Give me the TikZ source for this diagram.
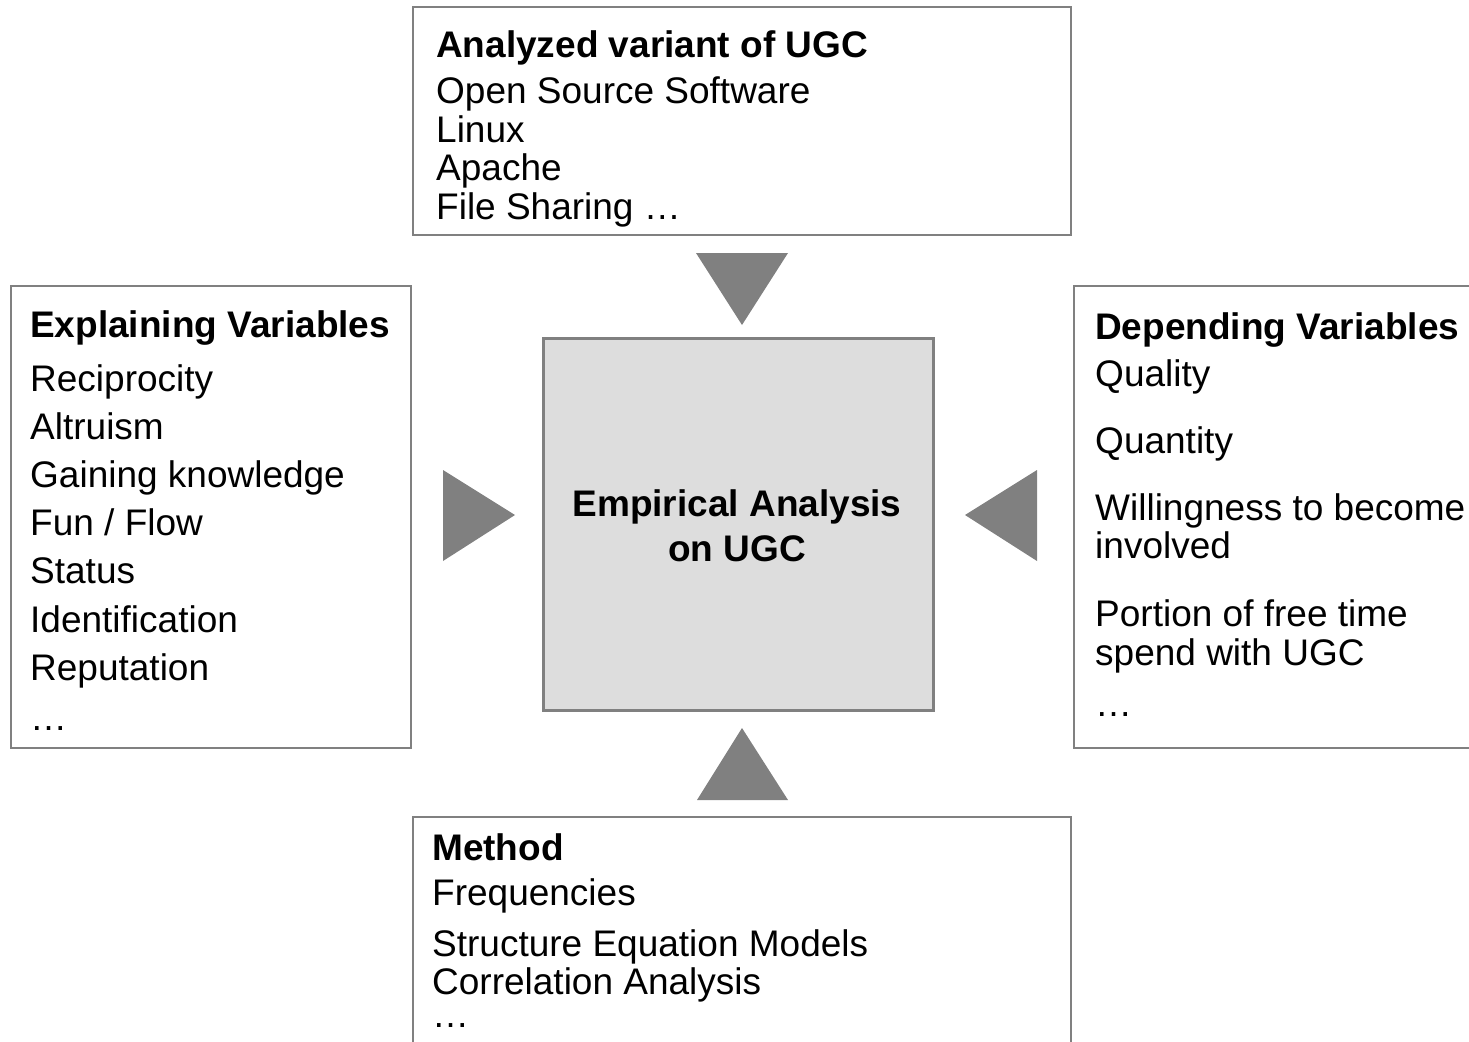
\documentclass[tikz,border=0pt]{standalone}
\usepackage{fontspec}
\setmainfont{Liberation Sans}
\begin{document}
\begin{tikzpicture}[x=1pt,y=-1pt,
  box/.style={draw=boxgray,line width=2pt,fill=white},
  core/.style={draw=boxgray,line width=3pt,fill=coregray},
  tri/.style={fill=trigray},
  txt/.style={anchor=base west,inner sep=0pt,font=\fontsize{37}{44}\selectfont},
  hd/.style={txt,font=\fontsize{37}{44}\selectfont\bfseries},
  ctxt/.style={anchor=base,inner sep=0pt,font=\fontsize{37}{44}\selectfont\bfseries}]
\definecolor{boxgray}{RGB}{128,128,128}
\definecolor{coregray}{RGB}{221,221,221}
\definecolor{trigray}{RGB}{128,128,128}
\useasboundingbox (0,0) rectangle (1469,1041);
% boxes
\draw[box] (413,7) rectangle (1071,235);
\draw[box] (11,286) rectangle (411,748);
\draw[box] (1074,286) rectangle (1490,748);
\draw[box] (413,817) rectangle (1071,1060);
\draw[core] (543,338) rectangle (933,710);
% arrows (triangles)
\fill[tri] (696,253) -- (788,253) -- (742,325) -- cycle;
\fill[tri] (443,470) -- (443,561) -- (515,515) -- cycle;
\fill[tri] (1037,470) -- (1037,561) -- (965,515) -- cycle;
\fill[tri] (697,800) -- (788,800) -- (742,728) -- cycle;
% center text
\node[ctxt] (c1) at (737,516) {Empirical Analysis};
\node[ctxt] (c2) at (737,561) {on UGC};
% top box
\node[hd] (a0) at (436,58) {Analyzed variant of UGC};
\node[txt] (a1) at (436,103) {Open Source Software};
\node[txt] (a2) at (436,142) {Linux};
\node[txt] (a3) at (436,180) {Apache};
\node[txt] (a4) at (436,219) {File Sharing …};
% left box
\node[hd] (l0) at (30,337) {Explaining Variables};
\node[txt] (l1) at (30,391) {Reciprocity};
\node[txt] (l2) at (30,439) {Altruism};
\node[txt] (l3) at (30,487) {Gaining knowledge};
\node[txt] (l4) at (30,535) {Fun / Flow};
\node[txt] (l5) at (30,583) {Status};
\node[txt] (l6) at (30,632) {Identification};
\node[txt] (l7) at (30,680) {Reputation};
\node[txt] (l8) at (30,730) {…};
% right box
\node[hd] (r0) at (1095,339) {Depending Variables};
\node[txt] (r1) at (1095,386) {Quality};
\node[txt] (r2) at (1095,453) {Quantity};
\node[txt] (r3) at (1095,520) {Willingness to become};
\node[txt] (r4) at (1095,558) {involved};
\node[txt] (r5) at (1095,626) {Portion of free time};
\node[txt] (r6) at (1095,665) {spend with UGC};
\node[txt] (r7) at (1095,716) {…};
% bottom box
\node[hd] (m0) at (432,860) {Method};
\node[txt] (m1) at (432,905) {Frequencies};
\node[txt] (m2) at (432,956) {Structure Equation Models};
\node[txt] (m3) at (432,994) {Correlation Analysis};
\node[txt] (m4) at (432,1027) {…};
\end{tikzpicture}
\end{document}
